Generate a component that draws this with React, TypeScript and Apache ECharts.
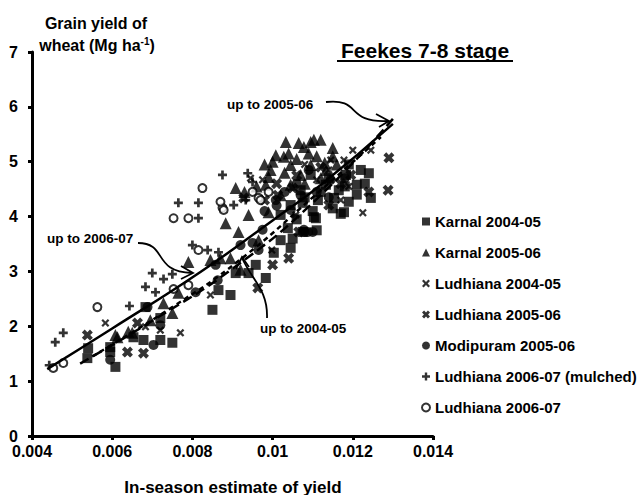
import React, { useEffect, useRef } from "react";
import * as echarts from "echarts";

const xTickLabels = ["0.004", "0.006", "0.008", "0.01", "0.012", "0.014"];
const yTickLabels = ["0", "1", "2", "3", "4", "5", "6", "7"];

const seriesNames = [
  "Karnal 2004-05",
  "Karnal 2005-06",
  "Ludhiana 2004-05",
  "Ludhiana 2005-06",
  "Modipuram 2005-06",
  "Ludhiana 2006-07 (mulched)",
  "Ludhiana 2006-07",
];

const karnal0405: [number, number][] = [
  [0.0054, 1.6], [0.00595, 1.62], [0.00608, 1.26], [0.00653, 1.8], [0.00678, 1.75],
  [0.0072, 1.75], [0.0075, 1.7], [0.0072, 2.15], [0.0085, 2.3], [0.00865, 2.66],
  [0.00895, 2.57], [0.00908, 2.97], [0.0094, 2.97], [0.00983, 2.88], [0.01003, 3.34],
  [0.01038, 3.79], [0.01045, 3.43], [0.01075, 3.72], [0.01103, 3.99], [0.01113, 4.3],
  [0.01075, 4.25], [0.0124, 4.79], [0.01245, 4.34], [0.01178, 4.08], [0.01153, 4.34],
  [0.0119, 4.27], [0.01165, 4.48], [0.01108, 3.97], [0.0121, 4.58], [0.01183, 4.76],
  [0.01133, 4.58], [0.0107, 4.48], [0.01095, 4.76], [0.01045, 4.21], [0.0102, 4.03],
  [0.0102, 3.57], [0.00958, 3.12], [0.00683, 2.35], [0.00595, 1.53], [0.00538, 1.42],
  [0.0112, 4.45], [0.0115, 4.15], [0.0118, 4.55], [0.0121, 4.4], [0.0123, 4.6],
  [0.011, 4.1], [0.0106, 3.95], [0.0108, 4.35], [0.0114, 4.7], [0.0119, 4.95],
  [0.0122, 4.85], [0.0117, 4.05], [0.0105, 3.6], [0.0111, 3.75],
];

const karnal0506: [number, number][] = [
  [0.00613, 1.8], [0.0064, 1.9], [0.00608, 1.84], [0.0065, 1.88], [0.00728, 2.42],
  [0.0075, 2.24], [0.0079, 3.17], [0.00845, 3.21], [0.0087, 3.24], [0.00895, 3.24],
  [0.00883, 3.88], [0.00915, 3.72], [0.0094, 4.03], [0.00908, 4.52], [0.01033, 5.36],
  [0.01065, 5.34], [0.01095, 5.36], [0.01103, 5.4], [0.0112, 5.4], [0.0115, 5.25],
  [0.01078, 5.27], [0.01008, 5.12], [0.01028, 5.09], [0.00995, 4.85], [0.01045, 4.94],
  [0.0107, 4.76], [0.00983, 4.58], [0.0102, 4.39], [0.01095, 4.94], [0.01133, 4.85],
  [0.00765, 2.61], [0.00695, 2.11], [0.0092, 3.03], [0.00965, 3.57], [0.0099, 4.08],
  [0.01045, 4.58], [0.0104, 5.15], [0.0106, 5.05], [0.0109, 5.15], [0.0111, 5.1],
  [0.0113, 4.98], [0.01, 5.0], [0.0098, 4.95], [0.0103, 4.8], [0.0108, 4.6],
  [0.0112, 4.7], [0.0116, 4.95], [0.0099, 4.72], [0.0096, 4.55], [0.0093, 4.45],
  [0.0115, 5.1],
];

const ludhiana0405: [number, number][] = [
  [0.00583, 2.06], [0.00683, 1.99], [0.0077, 1.88], [0.00945, 4.7], [0.00975, 4.67],
  [0.01245, 5.21], [0.01225, 4.07], [0.0117, 4.3], [0.0111, 4.67], [0.01145, 5.03],
  [0.01058, 4.03], [0.00998, 3.39], [0.00845, 2.57], [0.0072, 1.93], [0.012, 5.21],
  [0.01178, 5.03], [0.0114, 4.85], [0.0119, 4.55], [0.0108, 4.95],
];

const ludhiana0506: [number, number][] = [
  [0.00538, 1.84], [0.00638, 1.53], [0.00678, 1.51], [0.00663, 2.06], [0.00963, 2.7],
  [0.0104, 3.24], [0.0129, 5.07], [0.01288, 4.48], [0.0124, 4.45], [0.00928, 4.34],
  [0.01013, 4.39], [0.0105, 4.52], [0.01, 3.12], [0.01065, 3.72], [0.01195, 4.76],
  [0.0114, 4.21], [0.0112, 4.9], [0.0117, 4.6], [0.0106, 4.75], [0.0101, 4.6],
  [0.0098, 4.3],
];

const modipuram0506: [number, number][] = [
  [0.00595, 1.39], [0.00688, 2.35], [0.00703, 1.66], [0.00863, 2.84], [0.0095, 3.52],
  [0.00965, 3.39], [0.01088, 3.72], [0.011, 3.72], [0.01078, 3.76], [0.0107, 4.39],
  [0.00858, 3.12], [0.01045, 4.12], [0.00975, 3.76], [0.0092, 3.48], [0.01145, 4.67],
  [0.01008, 4.3], [0.00808, 2.62], [0.0072, 2.02], [0.0103, 4.45], [0.0106, 4.6],
  [0.0109, 4.85], [0.0111, 4.45], [0.0114, 4.35], [0.0098, 4.1], [0.0101, 4.2],
  [0.0118, 4.7], [0.0108, 3.72],
];

const ludhiana0607m: [number, number][] = [
  [0.00443, 1.29], [0.00458, 1.71], [0.00478, 1.88], [0.00643, 2.37], [0.00683, 2.72],
  [0.007, 2.97], [0.00728, 2.86], [0.0075, 2.95], [0.00708, 2.62], [0.008, 3.48],
  [0.00838, 3.39], [0.00865, 3.35], [0.00815, 3.97], [0.00765, 4.25], [0.00815, 4.25],
  [0.00903, 4.21], [0.00933, 4.3], [0.00875, 4.76], [0.00938, 4.79], [0.0095, 4.63],
];

const ludhiana0607: [number, number][] = [
  [0.00453, 1.24], [0.00478, 1.33], [0.00563, 2.35], [0.00753, 3.97], [0.0079, 3.97],
  [0.00815, 3.39], [0.00753, 2.68], [0.0079, 2.75], [0.00875, 4.16], [0.00825, 4.52],
  [0.0087, 4.27], [0.00878, 4.12], [0.0095, 4.45], [0.00965, 4.34], [0.0097, 4.3],
  [0.0099, 4.45],
];

const fit0607: [number, number][] = [
  [0.00438, 1.22], [0.006, 1.96], [0.0082, 2.99], [0.01, 3.93], [0.0112, 4.575], [0.013, 5.69],
];
const fit0506: [number, number][] = [
  [0.0052, 1.32], [0.007, 2.1], [0.009, 3.05], [0.011, 4.25], [0.013, 5.78],
];
const fit0405: [number, number][] = [
  [0.0055, 1.45], [0.0075, 2.35], [0.0092, 3.22], [0.011, 4.35], [0.0127, 5.45],
];

const FONT = "'Liberation Sans', Arial, Helvetica, sans-serif";

const xThin = "path://M0,2 L2,0 L5,3 L8,0 L10,2 L7,5 L10,8 L8,10 L5,7 L2,10 L0,8 L3,5 Z";
const xBold = "path://M0,2.6 L2.6,0 L5,2.4 L7.4,0 L10,2.6 L7.6,5 L10,7.4 L7.4,10 L5,7.6 L2.6,10 L0,7.4 L2.4,5 Z";
const plus = "path://M3.5,0 H6.5 V3.5 H10 V6.5 H6.5 V10 H3.5 V6.5 H0 V3.5 H3.5 Z";

export default function App() {
  const ref = useRef<HTMLDivElement>(null);
  useEffect(() => {
    if (!ref.current) return;
    const chart = echarts.init(ref.current, null, { renderer: "svg" });
    const scatter = (name: string, data: [number, number][], symbol: string, size: number, extra: any = {}) => ({
      type: "scatter",
      name,
      data,
      symbol,
      symbolSize: size,
      itemStyle: { color: "#000", ...extra },
      z: 2,
    });
    const fitLine = (data: [number, number][], type: any) => ({
      type: "line",
      data,
      smooth: true,
      symbol: "none",
      lineStyle: { color: "#000", width: 2.5, type },
      z: 5,
      silent: true,
    });
    const stroke = { stroke: "#000", lineWidth: 1.8, fill: null };
    chart.setOption({
      animation: false,
      backgroundColor: "#fff",
      textStyle: { fontFamily: FONT },
      grid: { left: 32, right: 211, top: 52, bottom: 59, containLabel: false },
      xAxis: {
        type: "value",
        min: 0.004,
        max: 0.014,
        interval: 0.002,
        axisLine: { lineStyle: { color: "#000", width: 3 } },
        axisTick: { show: true, inside: false, length: 4, lineStyle: { color: "#000", width: 3 } },
        axisLabel: {
          color: "#000",
          fontFamily: FONT,
          fontWeight: "bold",
          fontSize: 16,
          margin: 7,
          formatter: (_v: number, i: number) => xTickLabels[i] ?? "",
        },
        splitLine: { show: false },
      },
      yAxis: {
        type: "value",
        min: 0,
        max: 7,
        interval: 1,
        axisLine: { show: true, lineStyle: { color: "#000", width: 3 } },
        axisTick: { show: true, inside: false, length: 4, lineStyle: { color: "#000", width: 3 } },
        axisLabel: {
          color: "#000",
          fontFamily: FONT,
          fontWeight: "bold",
          fontSize: 16,
          margin: 14,
          formatter: (_v: number, i: number) => yTickLabels[i] ?? "",
        },
        splitLine: { show: false },
      },
      legend: {
        data: seriesNames,
        orient: "vertical",
        left: 416,
        top: 209,
        itemWidth: 8,
        itemHeight: 8,
        itemGap: 16,
        textStyle: { color: "#000", fontFamily: FONT, fontWeight: "bold", fontSize: 15 },
      },
      series: [
        scatter(seriesNames[0], karnal0405, "rect", 10),
        scatter(seriesNames[1], karnal0506, "triangle", 12),
        scatter(seriesNames[2], ludhiana0405, xThin, 8),
        scatter(seriesNames[3], ludhiana0506, xBold, 11),
        scatter(seriesNames[4], modipuram0506, "circle", 10),
        scatter(seriesNames[5], ludhiana0607m, plus, 9),
        {
          type: "scatter",
          name: seriesNames[6],
          data: ludhiana0607,
          symbol: "emptyCircle",
          symbolSize: 8,
          itemStyle: { color: "#000", borderColor: "#000", borderWidth: 1.6 },
          z: 2,
        },
        fitLine(fit0607, "solid"),
        fitLine(fit0506, [10, 5]),
        fitLine(fit0405, [5, 4]),
      ],
      graphic: [
        { type: "text", x: 96, y: 23, style: { text: "Grain yield of", font: `bold 16px ${FONT}`, fill: "#000", align: "center", verticalAlign: "middle" } },
        {
          type: "text",
          x: 97,
          y: 45,
          style: {
            text: "{a|wheat (Mg ha}{s|-1}{a|)}",
            fill: "#000",
            align: "center",
            verticalAlign: "middle",
            rich: {
              a: { font: `bold 16px ${FONT}`, fill: "#000" },
              s: { font: `bold 10px ${FONT}`, fill: "#000", verticalAlign: "top", padding: [0, 0, 7, 0] },
            },
          },
        },
        { type: "text", x: 425, y: 50, style: { text: "Feekes 7-8 stage", font: `bold 21px ${FONT}`, fill: "#000", align: "center", verticalAlign: "middle" } },
        { type: "line", shape: { x1: 337, y1: 61, x2: 513, y2: 61 }, style: { stroke: "#000", lineWidth: 2 } },
        {
          type: "text",
          x: 233,
          y: 487,
          style: { text: "In-season estimate of yield", font: `bold 17px ${FONT}`, fill: "#000", align: "center", verticalAlign: "middle" },
        },
        // annotations
        { type: "text", x: 227, y: 104, style: { text: "up to 2005-06", font: `bold 13.5px ${FONT}`, fill: "#000", verticalAlign: "middle" } },
        { type: "bezierCurve", shape: { x1: 326, y1: 102, cpx1: 362, cpy1: 98, cpx2: 345, cpy2: 123, x2: 388, y2: 121 }, style: stroke },
        { type: "polyline", shape: { points: [[376, 114], [389, 121], [379, 127]] }, style: stroke },

        { type: "text", x: 47, y: 238, style: { text: "up to 2006-07", font: `bold 13.5px ${FONT}`, fill: "#000", verticalAlign: "middle" } },
        { type: "bezierCurve", shape: { x1: 138, y1: 243, cpx1: 168, cpy1: 243, cpx2: 152, cpy2: 272, x2: 192, y2: 273 }, style: stroke },
        { type: "polyline", shape: { points: [[181, 266], [193, 273], [181, 279]] }, style: stroke },

        { type: "text", x: 260, y: 328, style: { text: "up to 2004-05", font: `bold 13.5px ${FONT}`, fill: "#000", verticalAlign: "middle" } },
        { type: "bezierCurve", shape: { x1: 267, y1: 318, cpx1: 268, cpy1: 290, cpx2: 252, cpy2: 280, x2: 242, y2: 258 }, style: stroke },
        { type: "polyline", shape: { points: [[236, 269], [242, 257], [249, 267]] }, style: stroke },
      ],
    });
    return () => chart.dispose();
  }, []);
  return <div ref={ref} style={{ width: 644, height: 495, position: "absolute", left: 0, top: 0 }} />;
}
